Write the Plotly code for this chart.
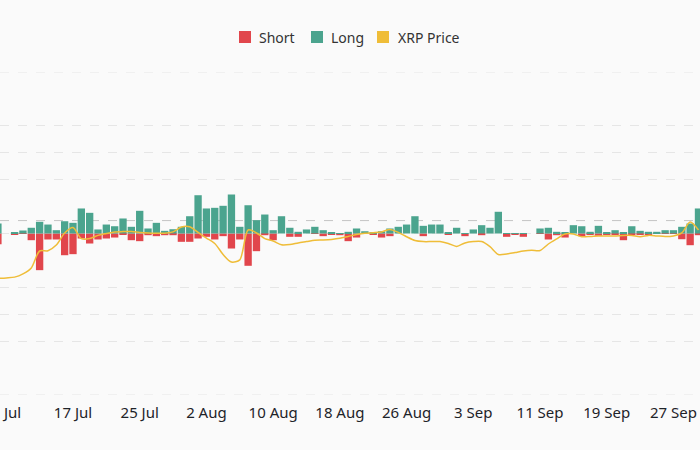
import plotly.graph_objects as go
import pandas as pd

# Daily dates (8 Jul - 30 Sep)
dates = pd.date_range("2024-07-08", "2024-09-30", freq="D")

long_vals = [12.4, 0, 1.2, 3.7, 7.1, 14.5, 11.1, 4.1, 15.2, 13.2,
             31, 25.6, 5, 11.1, 9, 18.6, 8.3, 28.1, 6.2, 13.2,
             3.3, 5.3, 8.3, 21.4, 47.4, 31, 31.8, 34.3, 48.3, 8.3,
             35, 16.5, 23.5, 4.1, 21.4, 7.1, 2.1, 5, 8.3, 4.1,
             1.2, 0.6, 2.1, 6.2, 2.8, 1.2, 2.8, 6.2, 8.3, 11.1,
             21.4, 9.5, 11.1, 11.1, 1.2, 7.1, 0.6, 5, 10.3, 7.1,
             26.9, 0.6, 0.6, 0.6, 0, 6.2, 7.1, 2.1, 1.2, 10.3,
             9, 2.1, 9.5, 1.2, 4.1, 0.9, 9, 3.3, 2.1, 2.1,
             4.1, 4.1, 8.3, 12.4, 31]

short_vals = [13.2, 0, 1.2, 0.6, 8.3, 45.4, 7.4, 7.4, 26.9, 25.6,
              6.2, 12.4, 7.4, 6.2, 5, 1.2, 8.3, 9.5, 2.1, 3.3,
              2.1, 2.1, 10.3, 10.3, 6.2, 4.1, 7.4, 3.3, 18.6, 7.4,
              40, 21.9, 2.1, 8.3, 0, 4.1, 4.1, 0, 0.6, 3.3,
              1.2, 2.1, 9.5, 5, 0, 1.2, 5, 3.3, 0, 0,
              0, 3.3, 0, 0, 1.2, 0, 3.3, 0, 2.1, 0,
              0, 4.1, 1.9, 4.1, 0, 0.6, 7.4, 2.1, 5, 0,
              3.3, 1.2, 2.8, 1.2, 1.2, 8.3, 1.2, 1.2, 1.2, 0.6,
              0.6, 0.6, 7.1, 14.5, 2.1]

price_vals = [0.433, 0.435, 0.438, 0.450, 0.472, 0.535, 0.536, 0.557, 0.602, 0.622,
              0.581, 0.581, 0.593, 0.600, 0.606, 0.607, 0.607, 0.604, 0.602, 0.601,
              0.601, 0.606, 0.624, 0.625, 0.604, 0.583, 0.563, 0.522, 0.494, 0.502,
              0.613, 0.602, 0.581, 0.572, 0.558, 0.559, 0.565, 0.570, 0.575, 0.576,
              0.578, 0.582, 0.589, 0.596, 0.601, 0.603, 0.606, 0.615, 0.604, 0.588,
              0.574, 0.570, 0.570, 0.570, 0.563, 0.552, 0.565, 0.570, 0.570, 0.551,
              0.522, 0.524, 0.529, 0.535, 0.538, 0.537, 0.561, 0.580, 0.598, 0.598,
              0.588, 0.589, 0.591, 0.591, 0.591, 0.593, 0.593, 0.588, 0.593, 0.591,
              0.589, 0.591, 0.602, 0.643, 0.613]

ref_price = 0.648

series_names = ["Short", "Long", "XRP Price"]

RED = "#e1464c"
GREEN = "#4ba48e"
YELLOW = "#efbd38"
GRID = "#e6e6e6"
BG = "#fafafa"
colors = [RED, GREEN, YELLOW]

W, H = 700, 450
T, B = 72, 55
PH = H - T - B


def py(px):  # pixel y from top -> paper y
    return (H - B - px) / PH


fig = go.Figure()
fig.add_trace(go.Bar(x=dates, y=[-v for v in short_vals], name=series_names[0],
                     marker=dict(color=RED, line=dict(width=0)), yaxis="y"))
fig.add_trace(go.Bar(x=dates, y=long_vals, name=series_names[1],
                     marker=dict(color=GREEN, line=dict(width=0)), yaxis="y"))
fig.add_trace(go.Scatter(x=dates, y=price_vals, name=series_names[2], mode="lines",
                         line=dict(color=YELLOW, width=1.5, shape="spline", smoothing=0.8),
                         yaxis="y2"))

# reference price line
fig.add_shape(type="line", xref="paper", x0=0, x1=1, yref="y2", y0=ref_price, y1=ref_price,
              line=dict(color="#c4c4c4", width=1, dash="dash"), layer="below")
# edge grid lines
for yv in (-200, 200):
    fig.add_shape(type="line", xref="paper", x0=0, x1=1, yref="y", y0=yv, y1=yv,
                  line=dict(color=GRID, width=1, dash="dash"), layer="below")

# manual legend (square swatches)
sw_x = [239, 311, 377]
tx_x = [257, 329, 396]
for name, c, sx, tx in zip(series_names, colors, sw_x, tx_x):
    fig.add_shape(type="rect", xref="paper", yref="paper",
                  x0=sx / W, x1=(sx + 12) / W, y0=py(43), y1=py(31),
                  fillcolor=c, line=dict(width=0))
    fig.add_annotation(xref="paper", yref="paper", x=tx / W, y=py(37),
                       xanchor="left", yanchor="middle", text=name, showarrow=False,
                       font=dict(size=14, color="#333333"))

fig.update_layout(
    width=W, height=H,
    paper_bgcolor=BG, plot_bgcolor=BG,
    margin=dict(l=0, r=0, t=T, b=B, autoexpand=False),
    barmode="relative", bargap=0.12,
    font=dict(family="Noto Sans", color="#1e2329"),
    showlegend=False,
    xaxis=dict(type="date", range=["2024-07-08 06:00", "2024-09-30 04:20"],
               tick0="2024-07-09", dtick=8 * 86400000, tickformat="%-d %b",
               showgrid=False, zeroline=False, showline=False, ticks="",
               automargin=False,
               ticklabeloverflow="allow", ticklabelstandoff=7,
               tickfont=dict(size=15, color="#1e2329")),
    yaxis=dict(range=[-200, 200], dtick=100, showticklabels=False, zeroline=False,
               automargin=False,
               showgrid=True, gridcolor=GRID, griddash="dash", gridwidth=1),
    yaxis2=dict(range=[0, 1.2], dtick=0.2, overlaying="y", side="right",
                showticklabels=False, zeroline=False, automargin=False,
                showgrid=True, gridcolor=GRID, griddash="dash", gridwidth=1),
)

fig.write_html("out.html", config={"displayModeBar": False},
               post_script="document.body.style.margin='0';document.body.style.background='#fafafa';")
